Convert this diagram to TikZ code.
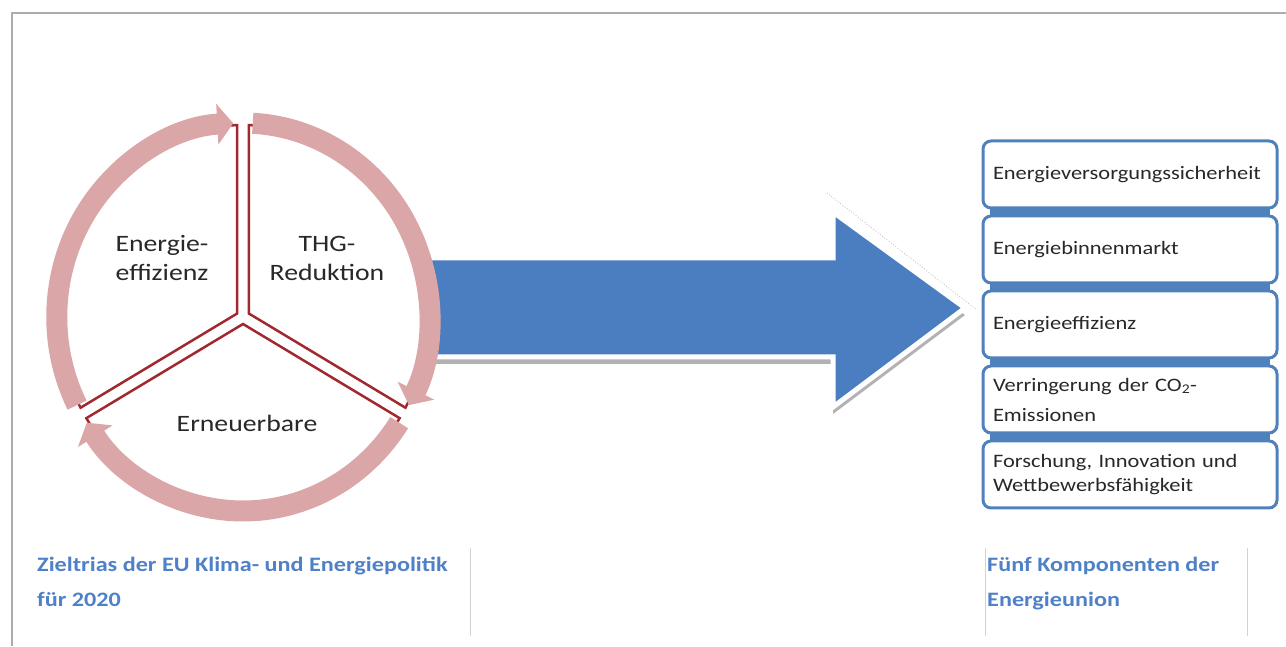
\documentclass[tikz,border=0pt]{standalone}
\usepackage{fontspec}
\setmainfont{Carlito}[FakeStretch=1.18]
\usetikzlibrary{arrows.meta,positioning}

\definecolor{ringrot}{RGB}{218,166,168}
\definecolor{kantenrot}{RGB}{160,40,46}
\definecolor{pfeilblau}{RGB}{74,126,193}
\definecolor{boxblau}{RGB}{79,129,189}
\definecolor{titelblau}{RGB}{79,129,200}
\definecolor{textgrau}{RGB}{40,40,40}

\tikzset{
  sektor/.style={fill=white,draw=kantenrot,line width=2.5pt,line join=miter},
  ring/.style={draw=ringrot,line width=21pt,-{Triangle[width=40pt,length=16pt]}},
  sektortext/.style={align=center,text=textgrau,font=\fontsize{23.5}{29}\selectfont},
  komp/.style={rounded corners=8pt,draw=boxblau,line width=3pt,fill=white,
    minimum width=294pt,minimum height=67pt,text width=274pt,inner xsep=10pt,
    align=left,text=textgrau,font=\fontsize{19}{24}\selectfont},
  titel/.style={anchor=base west,align=left,inner sep=0pt,text=titelblau,
    font=\bfseries\fontsize{20.5}{35}\selectfont},
  trenner/.style={draw=gray!35,line width=1pt}
}

\begin{document}
\begin{tikzpicture}[x=1pt,y=1pt]
  \useasboundingbox (0,0) rectangle (1286,646);
  % 外枠
  \draw[gray!65,line width=1.5pt] (1286,633) -- (12,633) -- (12,0);
  % 青い矢印（影付き）
  \fill[gray!60] (425,381) -- (833,381) -- (833,427) -- (965,331) -- (833,232) -- (833,282) -- (425,282) -- cycle;
  \draw[white,line width=5pt,fill=pfeilblau,line join=miter]
    (425,388) -- (833,388) -- (833,434) -- (965,338) -- (833,239) -- (833,289) -- (425,289) -- cycle;
  \draw[gray!55,dotted,line width=0.8pt] (827,453) -- (977,336);
  % 三つの扇形と円環
  \begin{scope}[shift={(243,329)},xscale=0.96]
    \draw[sektor] (150:7) -- (91.8:192) arc[start angle=91.8,end angle=208.2,radius=192] -- cycle;
    \draw[sektor] (30:7) -- (-28.2:192) arc[start angle=-28.2,end angle=88.2,radius=192] -- cycle;
    \draw[sektor] (270:7) -- (211.8:192) arc[start angle=211.8,end angle=328.2,radius=192] -- cycle;
    \draw[ring] (207:194) arc[start angle=207,end angle=93,radius=194];
    \draw[ring] (87:194) arc[start angle=87,end angle=-27,radius=194];
    \draw[ring] (-33:194) arc[start angle=-33,end angle=-147,radius=194];
  \end{scope}
  \node[sektortext] (eff) at (162,388) {Energie-\\effizienz};
  \node[sektortext] (thg) at (327,388) {THG-\\Reduktion};
  \node[sektortext] (ern) at (247,223) {Erneuerbare};
  % 五つの構成要素
  \foreach \i in {0,...,3} {\fill[boxblau] (990,440-75*\i) rectangle (1270,428-75*\i);}
  \node[komp] (k1) at (1130,471.5) {Energieversorgungssicherheit};
  \node[komp] (k2) at (1130,396.5) {Energiebinnenmarkt};
  \node[komp] (k3) at (1130,321.5) {Energieeffizienz};
  \node[komp] (k4) at (1130,246.5) {Verringerung der CO\textsubscript{2}-\\[6pt]Emissionen};
  \node[komp] (k5) at (1130,171.5) {Forschung, Innovation und\\Wettbewerbsfähigkeit};
  % 下の見出し
  \node[titel] (zieltrias) at (37,39) {Zieltrias der EU Klima- und Energiepolitik\\für 2020};
  \node[titel] (fuenf) at (987,39) {Fünf Komponenten der\\Energieunion};
  \foreach \x in {470,985,1247} {\draw[trenner] (\x,98) -- (\x,10);}
\end{tikzpicture}
\end{document}
